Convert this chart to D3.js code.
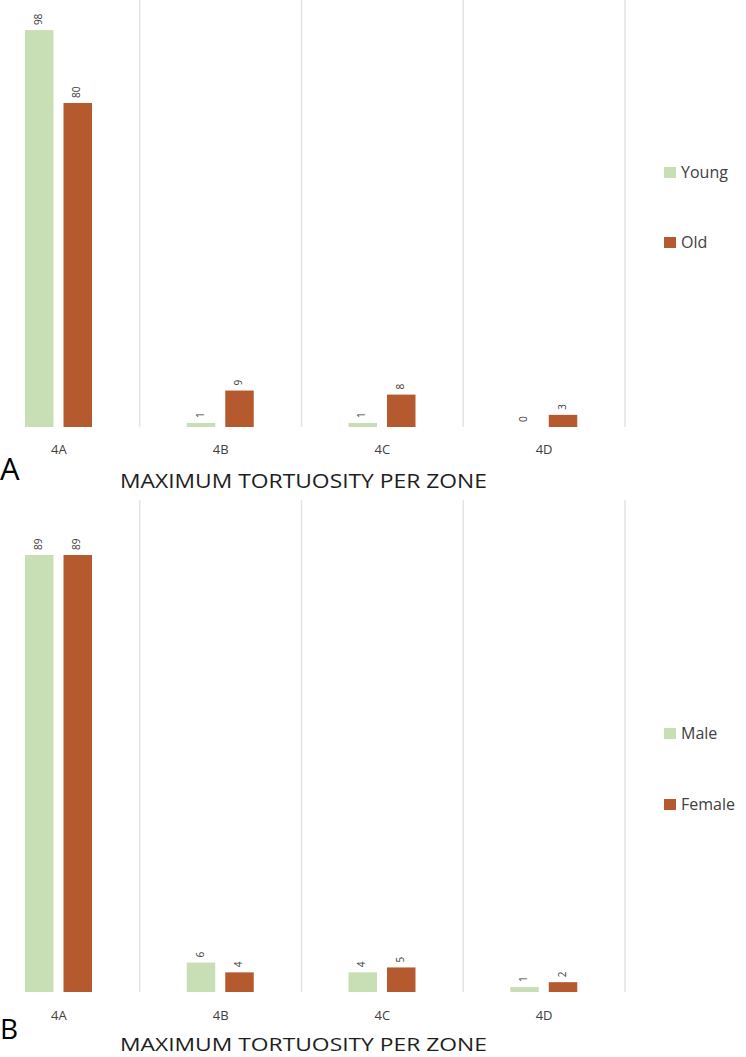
<!DOCTYPE html>
<html><head><meta charset="utf-8">
<script src="https://cdn.jsdelivr.net/npm/d3@7"></script>
<style>body{margin:0;background:#fff}svg{display:block}</style>
</head><body>
<svg id="chart" width="746" height="1057"></svg>
<script>
const categories = ["4A", "4B", "4C", "4D"];
const seriesA = ["Young", "Old"];
const youngValues = [98, 1, 1, 0];
const oldValues = [80, 9, 8, 3];
const seriesB = ["Male", "Female"];
const maleValues = [89, 6, 4, 1];
const femaleValues = [89, 4, 5, 2];
const panelLetters = ["A", "B"];
const axisTitle = "MAXIMUM TORTUOSITY PER ZONE";

const colors = ["#c8dfb5", "#b45a2e"];
const svg = d3.select("#chart");
const font = "'Open Sans', 'Liberation Sans', sans-serif";

function panel(cfg) {
  const x = d3.scaleBand().domain(categories).range([-22, 625]).padding(0);
  const xi = d3.scaleBand().domain(cfg.series).range([47, 114]).paddingInner(0.26);
  const y = d3.scaleLinear().domain([0, 100]).range([cfg.base, cfg.top]);
  const g = svg.append("g");
  const edges = categories.map(c => x(c)).concat([x(categories[categories.length-1]) + x.bandwidth()]);
  g.selectAll("line.grid").data(edges).join("line")
    .attr("x1", d => d).attr("x2", d => d)
    .attr("y1", cfg.gridTop).attr("y2", cfg.base)
    .attr("stroke", "#e3e3e3").attr("stroke-width", 1.5);
  const data = [];
  categories.forEach((c, i) => cfg.series.forEach((s, j) => data.push({c, s, j, v: cfg.values[j][i]})));
  g.selectAll("rect.bar").data(data).join("rect")
    .attr("x", d => x(d.c) + xi(d.s)).attr("width", xi.bandwidth())
    .attr("y", d => y(d.v)).attr("height", d => cfg.base - y(d.v))
    .attr("fill", d => colors[d.j]);
  g.selectAll("text.val").data(data).join("text")
    .attr("transform", d => `translate(${x(d.c) + xi(d.s) + xi.bandwidth()/2},${y(d.v) - 5}) rotate(-90)`)
    .attr("dominant-baseline", "middle").attr("text-anchor", "start")
    .attr("font-family", font).attr("font-size", 10).attr("fill", "#404040")
    .text(d => d.v);
  const ax = d3.axisBottom(x).tickSize(0).tickPadding(0);
  const axG = g.append("g").attr("transform", `translate(0,${cfg.base})`).call(ax);
  axG.select(".domain").remove();
  axG.selectAll("text").attr("font-family", font).attr("font-size", 13).attr("fill", "#404040")
    .attr("dy", cfg.catDy);
  cfg.series.forEach((s, j) => {
    g.append("rect").attr("x", 664).attr("y", cfg.legY[j] - 11).attr("width", 12).attr("height", 11).attr("fill", colors[j]);
    g.append("text").attr("x", 681).attr("y", cfg.legY[j]).attr("font-family", font).attr("font-size", 16)
      .attr("fill", "#404040").text(s);
  });
  g.append("text").attr("x", 0).attr("y", cfg.letterY).attr("font-family", font).attr("font-size", cfg.letterSize)
    .attr("fill", "#000").text(cfg.letter);
  g.append("text").attr("x", 120).attr("y", cfg.titleY).attr("font-family", font).attr("font-size", cfg.titleSize)
    .attr("fill", "#1e1e1e").attr("textLength", 367).attr("lengthAdjust", "spacingAndGlyphs").text(axisTitle);
}

panel({series: seriesA, values: [youngValues, oldValues], base: 427, top: 22, gridTop: 0,
  catDy: 27, legY: [178, 248], letter: panelLetters[0], letterY: 480, letterSize: 31,
  titleY: 488, titleSize: 20});
panel({series: seriesB, values: [maleValues, femaleValues], base: 992, top: 501, gridTop: 500,
  catDy: 28, legY: [739, 810], letter: panelLetters[1], letterY: 1039, letterSize: 28,
  titleY: 1051, titleSize: 18});
</script>
</body></html>
